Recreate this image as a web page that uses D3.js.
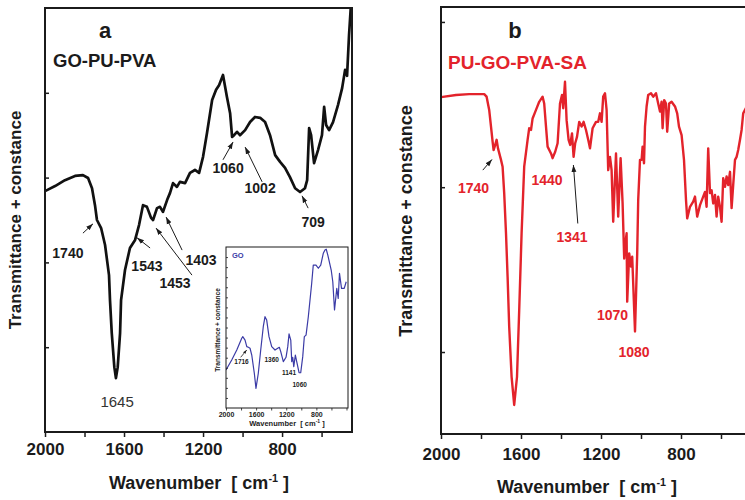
<!DOCTYPE html>
<html><head><meta charset="utf-8">
<script src="https://cdn.jsdelivr.net/npm/d3@7"></script>
<style>
body{margin:0;background:#fff}
svg{display:block;font-family:"Liberation Sans",Arial,sans-serif}
</style>
</head><body>
<script>
// ---------- DATA ----------
// Panel a: GO-PU-PVA (wavenumber, transmittance a.u.)
const wnA = [2000,1949,1899,1848,1808,1782,1762,1747,1737,1716,1696,1676,1671,1662,1649,1641,1632,1620,1615,1595,1570,1544,1524,1504,1484,1463,1453,1433,1418,1403,1382,1367,1352,1332,1317,1291,1266,1241,1220,1200,1180,1154,1134,1119,1099,1079,1063,1053,1043,1028,1013,987,962,937,911,886,861,835,810,785,760,734,709,684,673,663,653,638,618,598,587,577,562,542,517,496,481,471,461,451];
const trA = [56.8,58.0,59.4,60.4,60.6,59.9,57.5,53.5,50.0,48.1,44.1,37.0,31.1,23.3,15.3,12.7,15.3,23.3,31.1,38.2,43.4,45.3,48.8,53.5,53.1,50.5,50.0,52.8,53.1,51.9,54.7,56.4,58.7,57.8,59.0,58.7,61.1,61.8,61.1,64.9,70.5,78.3,80.7,81.8,84.2,79.0,75.2,69.6,70.0,70.8,70.0,71.2,73.1,74.3,74.1,73.1,70.0,65.3,63.7,62.3,60.1,57.5,56.6,57.5,59.4,71.7,70.0,63.4,66.5,70.0,76.7,72.4,71.2,73.1,77.1,81.1,85.4,84.0,93.6,101];

// Panel b: PU-GO-PVA-SA
const wnB = [2000,1925,1859,1784,1772,1759,1750,1742,1737,1729,1722,1715,1700,1692,1684,1675,1667,1659,1647,1634,1620,1609,1597,1584,1567,1559,1550,1542,1525,1509,1492,1484,1475,1467,1450,1442,1429,1417,1405,1395,1389,1380,1372,1362,1354,1345,1337,1329,1320,1309,1297,1287,1275,1262,1255,1242,1225,1214,1205,1197,1189,1180,1172,1164,1155,1147,1139,1125,1114,1102,1092,1084,1080,1072,1069,1059,1050,1044,1030,1019,1014,1005,997,992,985,980,972,964,950,939,925,914,905,897,892,884,875,869,859,847,830,819,810,797,785,775,769,755,739,730,719,705,689,680,672,664,655,647,639,630,622,614,605,597,589,580,572,564,555,547,539,530,522,514,505,497,489,480,455];
const trB = [78.9,79.4,79.6,79.6,79.0,75.9,72.0,68.5,66.5,67.7,68.9,66.9,64.2,62.6,56.4,47.0,36.8,25.1,13.4,6.8,13.4,29.0,47.0,62.6,68.9,71.6,71.2,73.9,75.9,77.8,79.0,77.4,72.0,67.3,65.7,64.6,66.1,68.1,77.4,79.4,76.3,82.5,73.5,68.9,67.7,70.4,64.9,68.1,69.6,73.1,72.0,73.1,71.2,68.5,66.9,71.6,73.1,73.1,75.1,73.1,79.0,79.8,75.9,61.8,64.9,61.8,49.7,65.7,50.9,64.6,54.0,41.1,43.9,47.0,31.0,42.3,39.2,41.5,24.0,42.3,54.8,64.2,64.2,67.3,63.4,72.0,76.7,79.4,79.8,79.0,79.8,77.4,75.5,77.8,71.6,78.2,77.4,70.8,77.4,77.8,76.7,75.1,72.0,70.0,64.2,54.8,50.5,53.2,54.4,55.6,50.9,53.6,55.6,56.7,53.2,66.9,56.4,57.1,54.0,56.0,50.9,55.6,53.2,49.7,59.9,57.9,60.3,58.3,61.4,52.9,58.3,64.2,64.9,66.5,68.9,71.2,75.1,75.9,78.2];

// Inset: GO
const wnGO = [2000,1924,1857,1791,1777,1747,1724,1703,1681,1658,1624,1602,1571,1539,1505,1482,1460,1429,1393,1349,1313,1292,1273,1239,1203,1180,1163,1140,1127,1114,1100,1079,1061,1030,1008,981,960,937,907,862,841,805,774,742,708,686,669,648,603,582,559,529,510,493,466,430,404];
const trGO = [23.6,29.8,36.0,43.3,44.3,42.2,38.1,37.7,37.1,32.9,21.6,12.2,21.6,36.0,50.5,56.7,54.7,44.3,38.1,36.0,37.1,37.7,35.0,28.8,31.5,38.1,46.0,42.2,28.8,31.5,25.7,32.9,28.8,21.9,21.9,31.9,44.3,45.3,56.7,77.5,88.8,88.8,86.8,88.8,96.1,98.1,98.6,95.0,85.7,78.4,60.9,74.3,68.1,83.7,74.3,74.3,78.4];

// Tick values
const xMajor = [2000,1600,1200,800];
const xMinor = [1800,1400,1000,600];
const yTicksA = [20,40,60,80];
const yTicksB = [19.2,57.8,96.5];
const insetXMajor = [2000,1600,1200,800];
const insetXMinor = [1800,1400,1000,600,400];
const insetYTicks = d3.range(6.25,100,6.25);

// Peak annotations (label anchor in data units; arrow from -> to)
const notesA = [
  {t:"1740",wn:1884,v:41.0,arrow:[1808,46.9,1757,49.1]},
  {t:"1543",wn:1484,v:38.0,arrow:[1468,43.4,1534,45.8]},
  {t:"1453",wn:1342,v:34.0,arrow:[1256,37.0,1438,48.1]},
  {t:"1403",wn:1210,v:39.4,arrow:[1306,42.9,1387,50.7]},
  {t:"1060",wn:1073,v:61.1,arrow:[1099,64.2,1048,68.4]},
  {t:"1002",wn:911,v:56.4,arrow:[901,59.0,987,67.2]},
  {t:"709",wn:643,v:48.3,arrow:[668,52.8,699,55.7]}
];
const note1645 = {t:"1645",wn:1635,v:5.9};
const notesB = [
  {t:"1740",wn:1837,v:56.4,arrow:[1791,61.8,1745,64.3]},
  {t:"1440",wn:1470,v:58.3},
  {t:"1341",wn:1345,v:45.0,arrow:[1316,49.3,1338,63.0]},
  {t:"1070",wn:1142,v:26.7},
  {t:"1080",wn:1035,v:18.0}
];
const notesGO = [
  {t:"1716",wn:1794,v:27.3,arrow:[1805,31.5,1725,36.0]},
  {t:"1360",wn:1393,v:28.8},
  {t:"1141",wn:1163,v:20.5},
  {t:"1060",wn:1021,v:13.2}
];

// ---------- DRAW ----------
const W=745,H=500;
const RED="#e3232b", BLUE="#3b3ba6", INK="#1b1b1b";
const svg=d3.select("body").append("svg").attr("width",W).attr("height",H);
const defs=svg.append("defs");
function marker(id,size){
  defs.append("marker").attr("id",id).attr("viewBox","0 0 10 10").attr("refX",10).attr("refY",5)
    .attr("markerWidth",size).attr("markerHeight",size).attr("markerUnits","userSpaceOnUse").attr("orient","auto")
    .append("path").attr("d","M0,1.5 L10,5 L0,8.5 Z").attr("fill",INK);
}
marker("arr",7); marker("arrS",4);

function drawPanel(o){
  const x=d3.scaleLinear().domain(o.xDom).range([o.l,o.r]);
  const y=d3.scaleLinear().domain([0,100]).range([o.b,o.t]);
  const g=svg.append("g");
  const cid="clip"+o.id;
  defs.append("clipPath").attr("id",cid).append("rect").attr("x",o.l).attr("y",o.t).attr("width",o.r-o.l).attr("height",o.b-o.t);
  const line=d3.line().x(d=>x(d[0])).y(d=>y(d[1]));
  g.append("path").datum(d3.zip(o.wn,o.tr)).attr("d",line).attr("fill","none")
    .attr("stroke",o.color).attr("stroke-width",o.lw).attr("stroke-linejoin","round").attr("clip-path",`url(#${cid})`);
  g.append("rect").attr("x",o.l).attr("y",o.t).attr("width",o.r-o.l).attr("height",o.b-o.t)
    .attr("fill","none").attr("stroke",INK).attr("stroke-width",o.frame);
  const ax=g.append("g").attr("transform",`translate(0,${o.b})`)
    .call(d3.axisBottom(x).tickValues(o.xMajor).tickSize(o.tick).tickSizeOuter(0).tickFormat(d3.format("d")));
  ax.select(".domain").remove();
  ax.selectAll("line").attr("stroke",INK).attr("stroke-width",o.tw);
  ax.selectAll("text").attr("y",o.labOff).attr("dy",null).attr("font-size",o.fs).attr("font-weight","bold").attr("fill",INK)
    .attr("font-family","'Liberation Sans',Arial,sans-serif");
  const axm=g.append("g").attr("transform",`translate(0,${o.b})`)
    .call(d3.axisBottom(x).tickValues(o.xMinor).tickSize(o.tick).tickSizeOuter(0).tickFormat(""));
  axm.select(".domain").remove();
  axm.selectAll("line").attr("stroke",INK).attr("stroke-width",o.tw);
  const ay=g.append("g").attr("transform",`translate(${o.l},0)`)
    .call(d3.axisRight(y).tickValues(o.yTicks).tickSize(o.ytick).tickSizeOuter(0).tickFormat(""));
  ay.select(".domain").remove();
  ay.selectAll("line").attr("stroke",INK).attr("stroke-width",o.tw);
  (o.notes||[]).forEach(n=>{
    g.append("text").attr("x",x(n.wn)).attr("y",y(n.v)).attr("text-anchor","middle")
      .attr("font-size",n.fs||o.nfs).attr("font-weight",n.fw||"bold").attr("fill",n.color||o.ncolor).text(n.t);
    if(n.arrow){
      const a=n.arrow;
      g.append("line").attr("x1",x(a[0])).attr("y1",y(a[1])).attr("x2",x(a[2])).attr("y2",y(a[3]))
        .attr("stroke",INK).attr("stroke-width",o.aw).attr("marker-end",`url(#${o.marker})`);
    }
  });
  return {x,y,g};
}

// Panel a
const pa=drawPanel({id:"a",xDom:[2000,446],l:45,r:352,t:8,b:432,wn:wnA,tr:trA,color:"#111",lw:2.7,
  frame:2,xMajor,xMinor,tick:5,tw:1.5,labOff:23,fs:17,yTicks:yTicksA,ytick:4,
  notes:notesA.concat([Object.assign({fs:15,fw:"normal",color:"#333"},note1645)]),nfs:14,ncolor:INK,aw:1,marker:"arr"});
pa.g.append("text").attr("x",105).attr("y",38).attr("text-anchor","middle").attr("font-size",22).attr("font-weight","bold").attr("fill",INK).text("a");
pa.g.append("text").attr("x",53).attr("y",67).attr("font-size",18.5).attr("font-weight","bold").attr("fill",INK).text("GO-PU-PVA");

// Inset (white box)
svg.append("rect").attr("x",226).attr("y",247).attr("width",122).attr("height",161).attr("fill","#fff");
const pi=drawPanel({id:"go",xDom:[2000,380],l:226,r:348,t:247,b:408,wn:wnGO,tr:trGO,color:BLUE,lw:1.2,
  frame:1,xMajor:insetXMajor,xMinor:insetXMinor,tick:2.5,tw:0.8,labOff:9,fs:7,yTicks:insetYTicks,ytick:2,
  notes:notesGO,nfs:6.5,ncolor:INK,aw:0.8,marker:"arrS"});
pi.g.append("text").attr("x",232).attr("y",258).attr("font-size",7.5).attr("font-weight","bold").attr("fill",BLUE).text("GO");
const it=pi.g.append("text").attr("x",287).attr("y",426).attr("text-anchor","middle").attr("font-size",7.5).attr("font-weight","bold").attr("fill",INK).style("white-space","pre");
it.append("tspan").text("Wavenumber  [ cm");
it.append("tspan").attr("dy",-3).attr("font-size",5).text("-1");
it.append("tspan").attr("dy",3).text(" ]");
pi.g.append("text").attr("transform","translate(220,330) rotate(-90)").attr("text-anchor","middle").attr("font-size",6.5).attr("font-weight","bold").attr("fill",INK).text("Transmittance + constance");

// Panel b
const pb=drawPanel({id:"b",xDom:[2000,450],l:441,r:751,t:7,b:434,wn:wnB,tr:trB,color:RED,lw:2.4,
  frame:2,xMajor,xMinor,tick:5,tw:1.5,labOff:26,fs:17,yTicks:yTicksB,ytick:4,
  notes:notesB,nfs:14,ncolor:RED,aw:1,marker:"arr"});
pb.g.append("text").attr("x",515).attr("y",38).attr("text-anchor","middle").attr("font-size",22).attr("font-weight","bold").attr("fill",INK).text("b");
pb.g.append("text").attr("x",448).attr("y",69).attr("font-size",19).attr("font-weight","bold").attr("fill",RED).text("PU-GO-PVA-SA");

// Axis titles
function xTitle(cx,by,fs){
  const t=svg.append("text").attr("x",cx).attr("y",by).attr("text-anchor","middle").attr("font-size",fs)
    .attr("font-weight","bold").attr("fill",INK).style("white-space","pre");
  t.append("tspan").text("Wavenumber  [ cm");
  t.append("tspan").attr("dy",-7).attr("font-size",fs*0.6).text("-1");
  t.append("tspan").attr("dy",7).text(" ]");
}
xTitle(199,489,18); xTitle(587,493,18);
function yTitle(bx,cy,fs){
  svg.append("text").attr("transform",`translate(${bx},${cy}) rotate(-90)`).attr("text-anchor","middle")
    .attr("font-size",fs).attr("font-weight","bold").attr("fill",INK).text("Transmittance + constance");
}
yTitle(21,220,17); yTitle(412,221,18);
</script>
</body></html>
